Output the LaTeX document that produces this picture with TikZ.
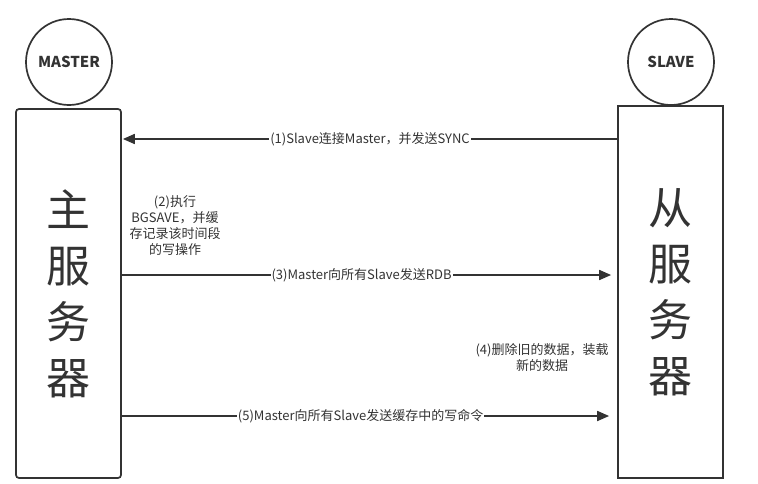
\documentclass[tikz,border=0pt]{standalone}
\usepackage{fontspec}
\setmainfont{Noto Sans CJK SC}
\usetikzlibrary{arrows.meta}
\definecolor{ink}{HTML}{333333}
\begin{document}
\begin{tikzpicture}[x=1pt,y=-1pt,
  every node/.style={text=ink},
  role/.style={draw=ink,line width=1.7pt,circle,minimum size=86pt,inner sep=0pt,font=\bfseries\fontsize{15}{17}\selectfont},
  serverbox/.style={draw=ink,line width=1.7pt,minimum width=105pt,inner sep=0pt,font=\fontsize{44}{56}\selectfont,align=center},
  msg/.style={draw=ink,line width=1.7pt,-{Triangle[length=12pt,width=10pt]}},
  lbl/.style={fill=white,inner sep=1pt,font=\fontsize{13}{16}\selectfont},
  note/.style={align=center,inner sep=0pt,font=\fontsize{13}{16}\selectfont}
]
\useasboundingbox (0,0) rectangle (758,483);
\node[role] (master) at (69,62) {MASTER};
\node[role] (slave) at (671,62) {SLAVE};
\node[serverbox,rounded corners=3pt,minimum height=369pt] (mbox) at (68.5,293.5) {主\\服\\务\\器};
\node[serverbox,minimum height=372pt] (sbox) at (670.5,292) {从\\服\\务\\器};
\coordinate (m1) at (mbox.east |- 0,139);
\coordinate (s1) at (sbox.west |- 0,139);
\coordinate (m3) at (mbox.east |- 0,275);
\coordinate (s3) at (sbox.west |- 0,275);
\coordinate (m5) at (mbox.east |- 0,416);
\coordinate (s5) at (sbox.west |- 0,416);
\draw[msg] (s1) -- ([xshift=1pt]m1) node[lbl,pos=0.5] (l1) {(1)Slave连接Master，并发送SYNC};
\draw[msg] (m3) -- ([xshift=-6pt]s3) node[lbl,pos=0.49] (l3) {(3)Master向所有Slave发送RDB};
\draw[msg] (m5) -- ([xshift=-8pt]s5) node[lbl,pos=0.49] (l5) {(5)Master向所有Slave发送缓存中的写命令};
\node[note] (n2) at (175,226) {(2)执行\\BGSAVE，并缓\\存记录该时间段\\的写操作};
\node[note] (n4) at (542,358) {(4)删除旧的数据，装载\\新的数据};
\end{tikzpicture}
\end{document}
